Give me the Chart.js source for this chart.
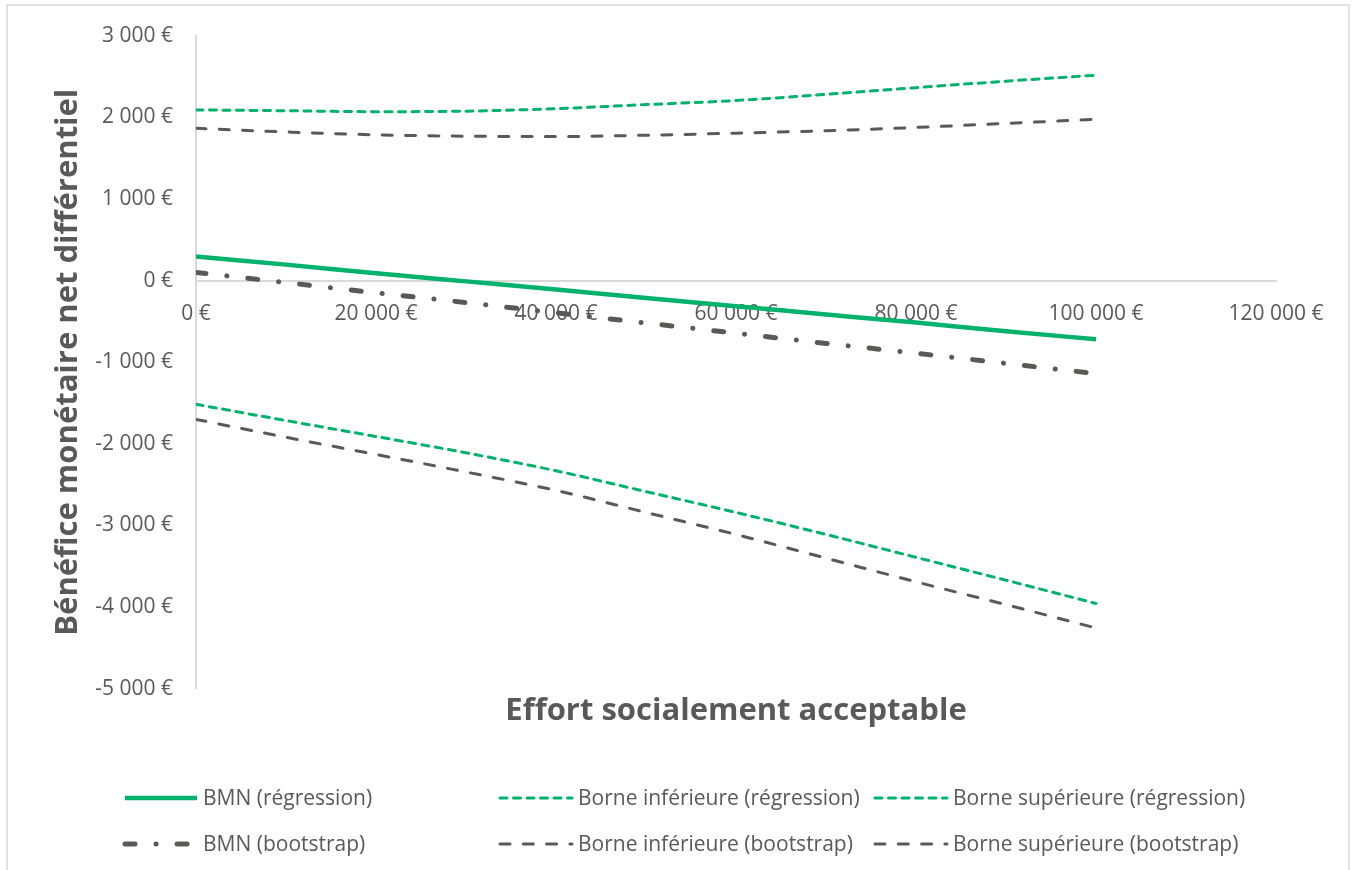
<!DOCTYPE html>
<html lang="fr">
<head>
<meta charset="utf-8">
<title>Bénéfice monétaire net différentiel</title>
<script src="https://cdn.jsdelivr.net/npm/chart.js@4/dist/chart.umd.min.js"></script>
<style>
  html, body { margin: 0; padding: 0; background: #ffffff; }
  #chart { display: block; }
</style>
</head>
<body>
<canvas id="chart" width="1357" height="870"></canvas>
<script>
// Effort socialement acceptable (€)
const effort = [0, 10000, 20000, 30000, 40000, 50000, 60000, 70000, 80000, 90000, 100000];

// Bénéfice monétaire net différentiel (€)
const bmnRegression      = [295, 195, 90, -10, -110, -215, -315, -415, -515, -620, -720];
const borneInfRegression = [-1515, -1715, -1910, -2110, -2330, -2585, -2840, -3110, -3390, -3670, -3955];
const borneSupRegression = [2090, 2080, 2068, 2075, 2105, 2155, 2205, 2280, 2362, 2442, 2515];
const bmnBootstrap       = [100, -25, -150, -270, -395, -520, -645, -770, -890, -1015, -1140];
const borneInfBootstrap  = [-1700, -1920, -2130, -2345, -2570, -2840, -3110, -3400, -3690, -3970, -4255];
const borneSupBootstrap  = [1865, 1820, 1785, 1768, 1763, 1780, 1805, 1835, 1875, 1925, 1975];

const seriesLabels = [
  'BMN (régression)', 'Borne inférieure (régression)', 'Borne supérieure (régression)',
  'BMN (bootstrap)', 'Borne inférieure (bootstrap)', 'Borne supérieure (bootstrap)'
];

const GREEN = '#00B26B';
const GREY = '#5B5958';
const TEXT = '#595959';
const AXIS = '#D9D9D9';

const toPoints = (ys) => effort.map((x, i) => ({ x: x, y: ys[i] }));

// "20 000 €" style labels
function euro(v) {
  const s = String(Math.abs(v)).replace(/\B(?=(\d{3})+(?!\d))/g, ' ');
  return (v < 0 ? '-' : '') + s + ' €';
}

Chart.defaults.font.family = "'Open Sans', sans-serif";
Chart.defaults.color = TEXT;

const common = { pointRadius: 0, pointHoverRadius: 0, fill: false, cubicInterpolationMode: 'monotone', borderCapStyle: 'round' };

const datasets = [
  { label: seriesLabels[0], data: toPoints(bmnRegression), borderColor: GREEN, borderWidth: 4.5, borderDash: [], borderCapStyle: 'butt' },
  { label: seriesLabels[1], data: toPoints(borneInfRegression), borderColor: GREEN, borderWidth: 3, borderDash: [7, 6.5] },
  { label: seriesLabels[2], data: toPoints(borneSupRegression), borderColor: GREEN, borderWidth: 3, borderDash: [7, 6.5] },
  { label: seriesLabels[3], data: toPoints(bmnBootstrap), borderColor: GREY, borderWidth: 5, borderDash: [10, 21, 0.1, 21] },
  { label: seriesLabels[4], data: toPoints(borneInfBootstrap), borderColor: GREY, borderWidth: 3, borderDash: [10, 13.3] },
  { label: seriesLabels[5], data: toPoints(borneSupBootstrap), borderColor: GREY, borderWidth: 3, borderDash: [10, 13.3] }
].map(d => Object.assign({}, common, d));

// light frame around the whole figure
const framePlugin = {
  id: 'frame',
  beforeDraw(chart) {
    const ctx = chart.ctx;
    ctx.save();
    ctx.strokeStyle = AXIS;
    ctx.lineWidth = 1.5;
    ctx.strokeRect(7, 5, 1342, 900);
    ctx.restore();
  }
};

// legend in a 3 x 2 grid below the axis title
const gridLegend = {
  id: 'gridLegend',
  afterDraw(chart, args, opts) {
    const ctx = chart.ctx;
    ctx.save();
    chart.data.datasets.forEach((ds, i) => {
      const col = i % 3, row = Math.floor(i / 3);
      const tx = opts.textX[col];
      const y = opts.rowY[row];
      ctx.beginPath();
      ctx.strokeStyle = ds.borderColor;
      ctx.lineWidth = ds.borderWidth;
      ctx.lineCap = ds.borderCapStyle || 'butt';
      ctx.setLineDash(ds.borderDash || []);
      ctx.moveTo(tx - opts.sample - opts.gap, y);
      ctx.lineTo(tx - opts.gap, y);
      ctx.stroke();
      ctx.setLineDash([]);
      ctx.fillStyle = TEXT;
      ctx.font = opts.font;
      ctx.textAlign = 'left';
      ctx.textBaseline = 'middle';
      ctx.fillText(ds.label, tx, y + 1);
    });
    ctx.restore();
  }
};

new Chart(document.getElementById('chart'), {
  type: 'line',
  data: { datasets: datasets },
  plugins: [framePlugin, gridLegend],
  options: {
    responsive: false,
    animation: false,
    devicePixelRatio: 1,
    layout: { padding: { left: 40, right: 81, top: 35, bottom: 140 } },
    plugins: {
      legend: { display: false },
      tooltip: { enabled: false },
      title: {
        display: true,
        position: 'bottom',
        fullSize: false,
        text: 'Effort socialement acceptable',
        color: TEXT,
        font: { size: 31, weight: 'bold' },
        padding: { top: 4, bottom: 0 }
      },
      gridLegend: {
        textX: [203, 578, 953],
        rowY: [798, 844],
        sample: 72,
        gap: 6,
        font: "21px 'Open Sans', sans-serif"
      }
    },
    scales: {
      x: {
        type: 'linear',
        position: { y: 0 },
        min: 0,
        max: 120000,
        afterFit(scale) { scale.height = 0; },
        grid: { display: false, drawTicks: false },
        border: { display: true, color: AXIS, width: 2 },
        ticks: {
          stepSize: 20000,
          maxRotation: 0,
          autoSkip: false,
          padding: 21,
          color: TEXT,
          font: { size: 21 },
          callback: (v) => euro(v)
        }
      },
      y: {
        type: 'linear',
        position: 'left',
        min: -5000,
        max: 3000,
        afterFit(scale) { scale.width = 156; },
        grid: { display: false, drawTicks: false },
        border: { display: true, color: AXIS, width: 2 },
        ticks: {
          stepSize: 1000,
          padding: 23,
          color: TEXT,
          font: { size: 21 },
          callback: (v) => euro(v)
        },
        title: {
          display: true,
          text: 'Bénéfice monétaire net différentiel',
          color: TEXT,
          font: { size: 31, weight: 'bold' },
          padding: { top: 10, bottom: 0 }
        }
      }
    }
  }
});
</script>
</body>
</html>
